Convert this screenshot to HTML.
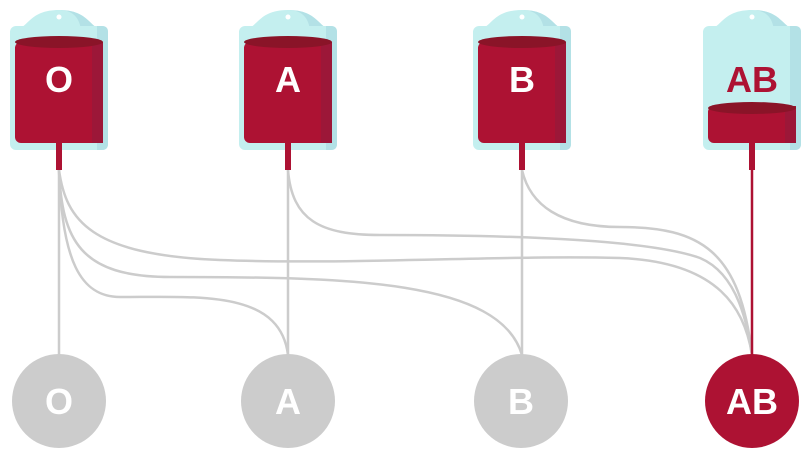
<!DOCTYPE html>
<html><head><style>body{margin:0;background:#fff}svg{display:block}</style></head>
<body>
<svg width="809" height="458" viewBox="0 0 809 458" xmlns="http://www.w3.org/2000/svg">
<defs>
<g id="bagbase">
  <path d="M-44 30 C-30 28 -30 10 0 10 C30 10 30 28 44 30 Z" fill="#c4efef"/>
  <path d="M0 10 C30 10 30 28 44 30 L22 30 C20 14 10 10 0 10Z" fill="#b3e1e6"/>
  <rect x="-49" y="26" width="98" height="124" rx="6" fill="#c4efef"/>
  <path d="M38 26 H43 Q49 26 49 32 V144 Q49 150 43 150 H38Z" fill="#b3e1e6"/>
  <circle cx="0" cy="17" r="2.5" fill="#fff"/>
</g>
</defs>
<g fill="none" stroke="#cccccc" stroke-width="2.5">
  <path d="M59 170 V355"/>
  <path d="M288 170 V355"/>
  <path d="M522 170 V355"/>
  <path d="M59 170 C62 260 80 297 120 297 C200 297 280 290 288 355"/>
  <path d="M59 170 C62 240 80 277 170 277 C350 277 500 280 522 355"/>
  <path d="M59 170 C66 220 90 255 220 260 C350 265 500 255 620 258 C720 262 745 310 752 355"/>
  <path d="M288 170 C292 220 320 235 380 235 C520 235 650 240 700 258 C740 275 748 330 752 355"/>
  <path d="M522 170 C530 205 560 227 620 227 C700 227 740 250 752 355"/>
</g>
<line x1="752" y1="150" x2="752" y2="360" stroke="#ad1233" stroke-width="2.5"/>

<g transform="translate(59,0)">
  <use href="#bagbase"/>
  <rect x="-44" y="42" width="88" height="101" rx="6" fill="#ad1233"/>
  <rect x="33" y="42" width="11" height="101" fill="#9c1738"/>
  <ellipse cx="0" cy="42" rx="44" ry="6" fill="#8a1428"/>
  <rect x="-3" y="143" width="6" height="27" fill="#ad1233"/>
  <text x="0" y="92" text-anchor="middle" font-family="Liberation Sans, sans-serif" font-weight="bold" font-size="36" fill="#fff">O</text>
</g>
<g transform="translate(288,0)">
  <use href="#bagbase"/>
  <rect x="-44" y="42" width="88" height="101" rx="6" fill="#ad1233"/>
  <rect x="33" y="42" width="11" height="101" fill="#9c1738"/>
  <ellipse cx="0" cy="42" rx="44" ry="6" fill="#8a1428"/>
  <rect x="-3" y="143" width="6" height="27" fill="#ad1233"/>
  <text x="0" y="92" text-anchor="middle" font-family="Liberation Sans, sans-serif" font-weight="bold" font-size="36" fill="#fff">A</text>
</g>
<g transform="translate(522,0)">
  <use href="#bagbase"/>
  <rect x="-44" y="42" width="88" height="101" rx="6" fill="#ad1233"/>
  <rect x="33" y="42" width="11" height="101" fill="#9c1738"/>
  <ellipse cx="0" cy="42" rx="44" ry="6" fill="#8a1428"/>
  <rect x="-3" y="143" width="6" height="27" fill="#ad1233"/>
  <text x="0" y="92" text-anchor="middle" font-family="Liberation Sans, sans-serif" font-weight="bold" font-size="36" fill="#fff">B</text>
</g>
<g transform="translate(752,0)">
  <use href="#bagbase"/>
  <rect x="-44" y="106" width="88" height="37" rx="6" fill="#ad1233"/>
  <rect x="33" y="106" width="11" height="37" fill="#9c1738"/>
  <ellipse cx="0" cy="108" rx="44" ry="6" fill="#8a1428"/>
  <rect x="-3" y="143" width="6" height="27" fill="#ad1233"/>
  <text x="0" y="92" text-anchor="middle" font-family="Liberation Sans, sans-serif" font-weight="bold" font-size="36" fill="#ad1233">AB</text>
</g>

<g font-family="Liberation Sans, sans-serif" font-weight="bold" font-size="36" fill="#fff" text-anchor="middle">
  <circle cx="59" cy="401" r="47" fill="#cccccc"/><text x="59" y="414">O</text>
  <circle cx="288" cy="401" r="47" fill="#cccccc"/><text x="288" y="414">A</text>
  <circle cx="521" cy="401" r="47" fill="#cccccc"/><text x="521" y="414">B</text>
  <circle cx="752" cy="401" r="47" fill="#ad1233"/><text x="752" y="414">AB</text>
</g>
</svg>
</body></html>
